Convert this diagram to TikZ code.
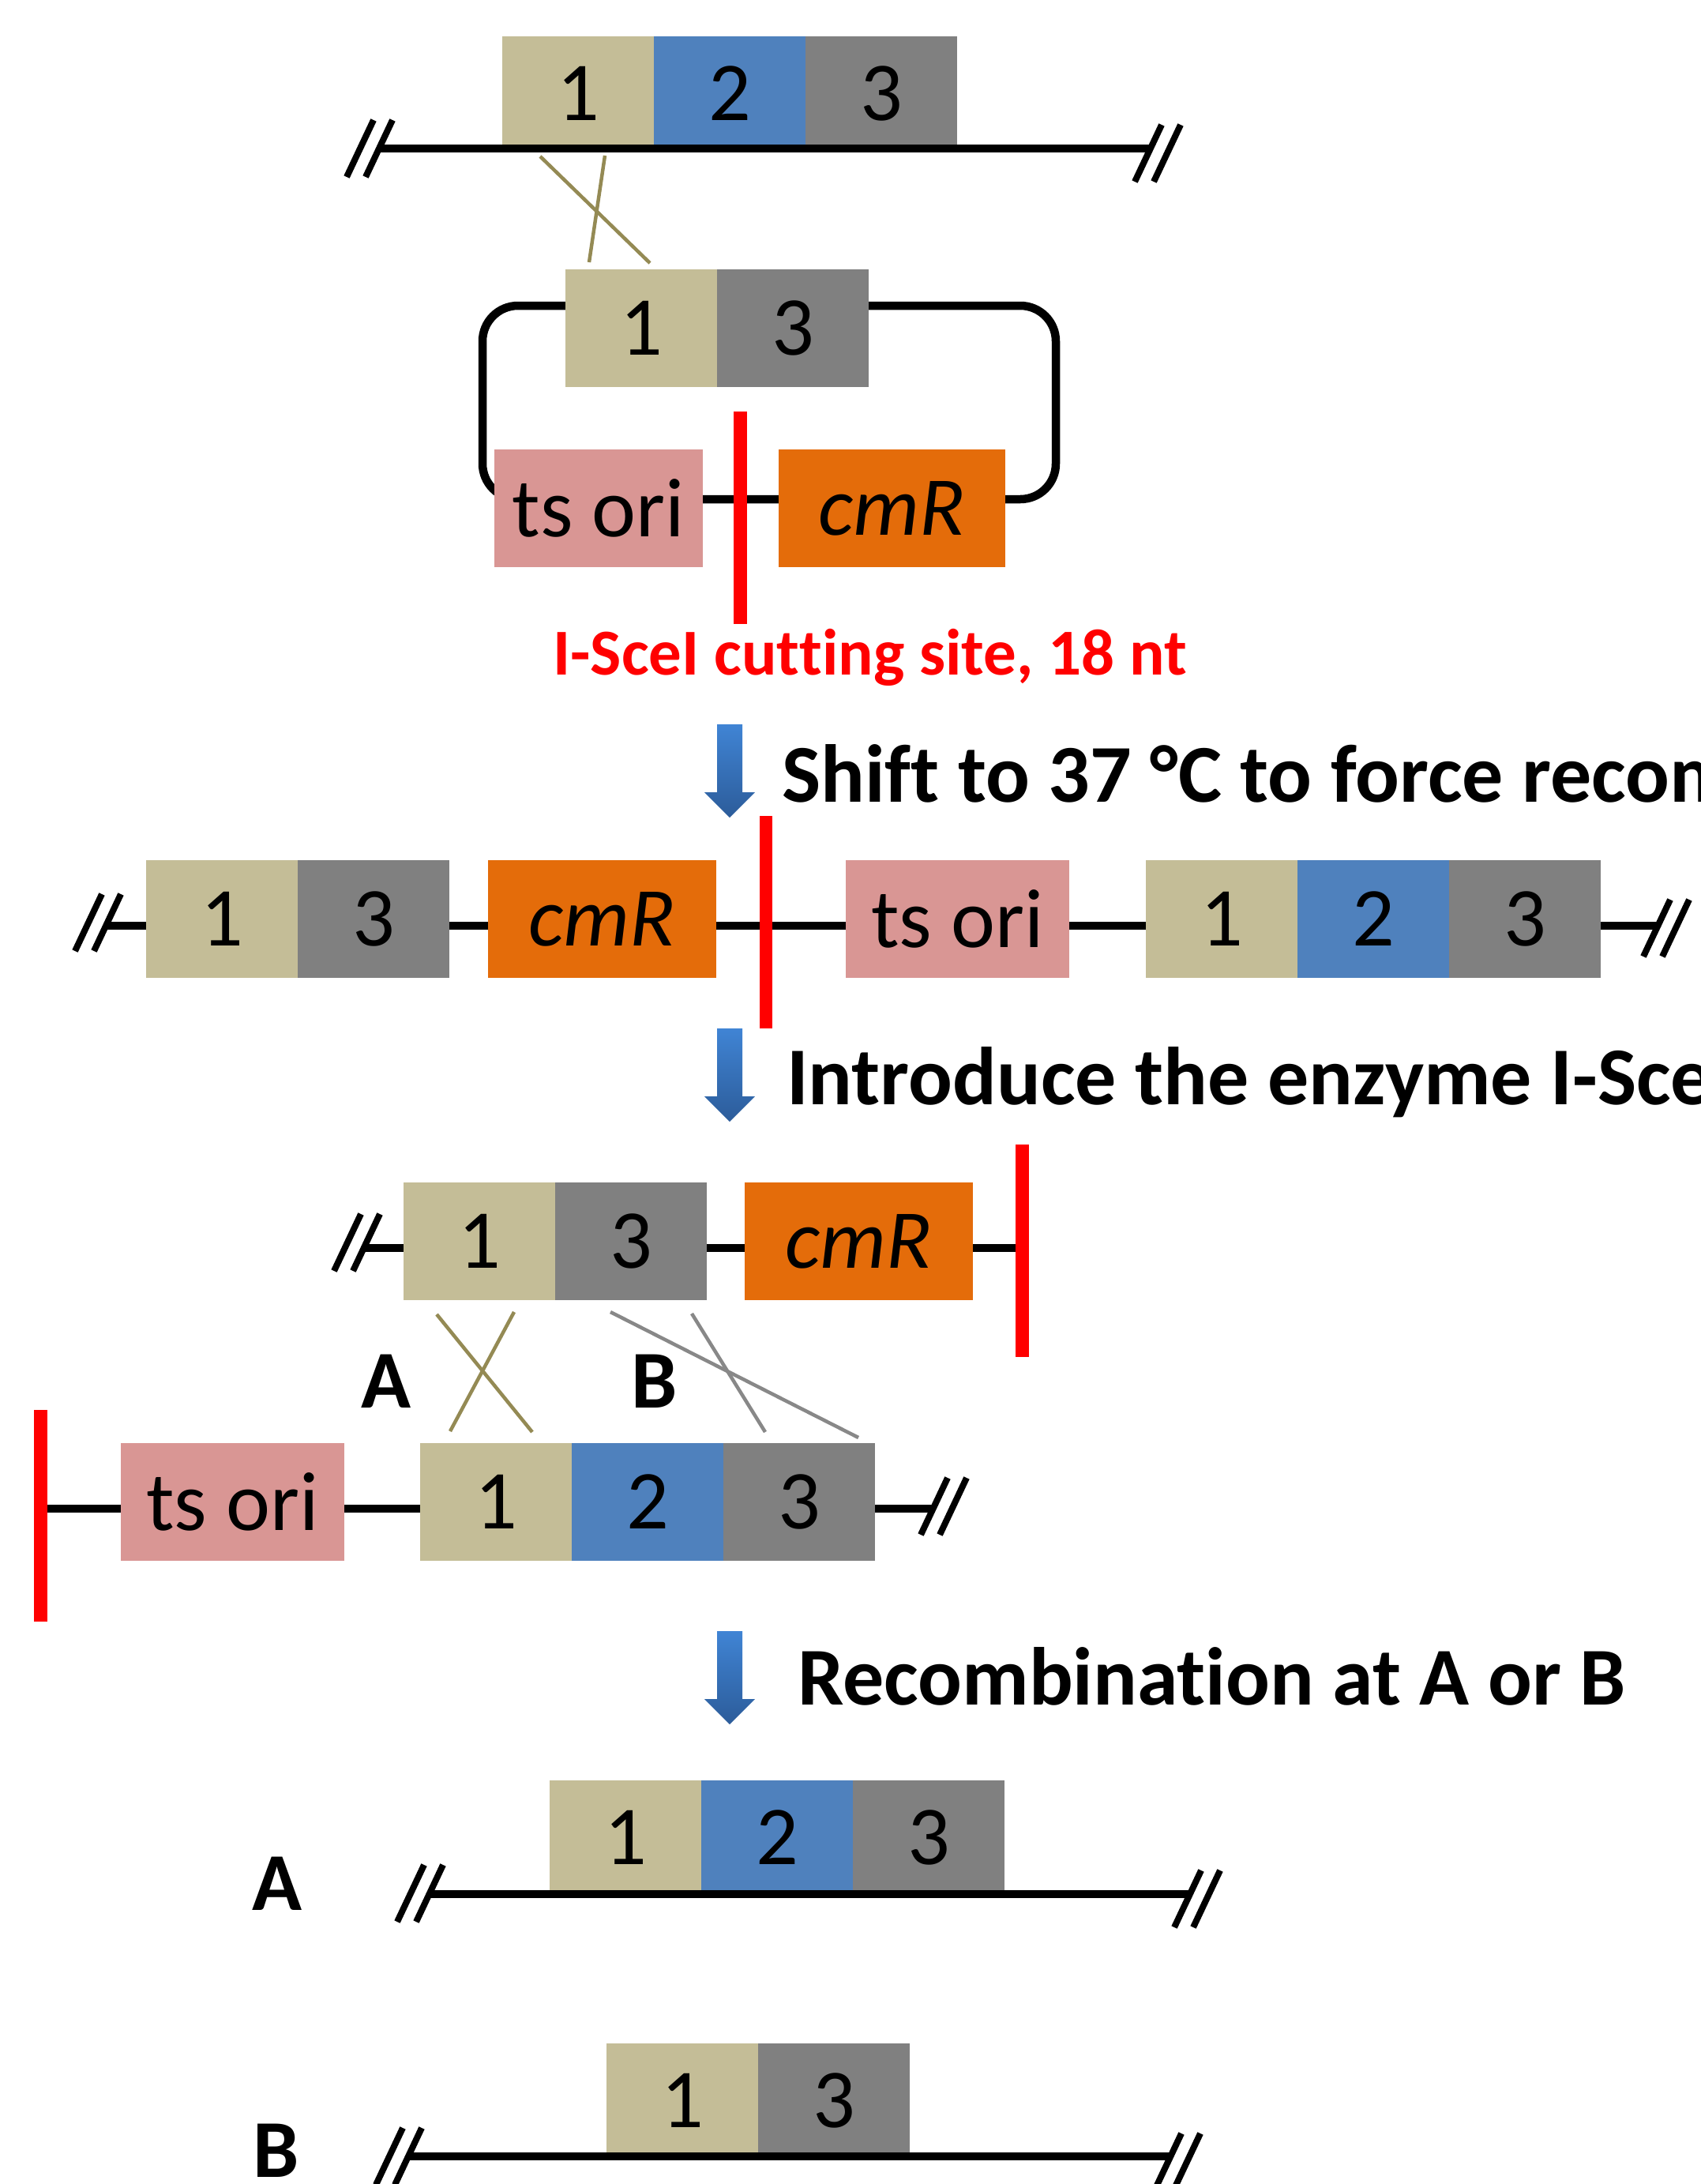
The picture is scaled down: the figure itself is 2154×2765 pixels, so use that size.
\documentclass[tikz,border=0pt]{standalone}
\usepackage{fontspec}
\setmainfont{Carlito}[Ligatures={NoCommon,NoRare,NoContextual}, RawFeature={-liga;-clig;-dlig}]
\definecolor{tanbox}{HTML}{C4BD97}
\definecolor{bluebox}{HTML}{4F81BD}
\definecolor{graybox}{HTML}{808080}
\definecolor{pinkbox}{HTML}{D99694}
\definecolor{orangebox}{HTML}{E46C0A}
\definecolor{olive}{HTML}{948A54}
\definecolor{grayline}{HTML}{888888}
\definecolor{cutred}{HTML}{FF0000}
\definecolor{arrTop}{RGB}{64,132,212}
\definecolor{arrBot}{RGB}{44,92,154}
\newcommand{\nl}{\kern0pt }
\begin{document}
\begin{tikzpicture}[x=1pt,y=-1pt,
  box/.style={inner sep=0pt, outer sep=0pt, anchor=north west, minimum width=192pt, minimum height=149pt, font=\fontsize{106}{110}\selectfont, text=black},
  lowbox/.style={box, minimum height=144pt},
  dna/.style={draw=black, line width=10.5pt},
  cut/.style={draw=cutred, line width=17pt},
  olivex/.style={draw=olive, line width=4.5pt},
  grayx/.style={draw=grayline, line width=4.5pt},
  head/.style={inner sep=0pt, anchor=base west, font=\bfseries\fontsize{104}{110}\selectfont},
  lab/.style={inner sep=0pt, anchor=base, font=\bfseries\fontsize{104}{110}\selectfont},
  redlab/.style={inner sep=0pt, anchor=base west, text=cutred, font=\bfseries\fontsize{83}{90}\selectfont},
  brk/.pic={
    \fill[white] (-29,36) -- (5,-36) -- (29,-36) -- (-5,36) -- cycle;
    \draw[line width=8pt] (-29,36) -- (5,-36) (-5,36) -- (29,-36);
  },
  downarr/.pic={
    \shade[top color=arrTop, bottom color=arrBot] (-16,0) -- (16,0) -- (16,86) -- (32,86) -- (0,118) -- (-32,86) -- (-16,86) -- cycle;
  }
]
\useasboundingbox (0,0) rectangle (2154,2765);
\clip (0,0) rectangle (2154,2765);

% ---------- Row 1: chromosome 1-2-3 ----------
\node[lowbox, fill=tanbox] (r1a) at (636,46) {1};
\node[lowbox, fill=bluebox] (r1b) at (828,46) {2};
\node[lowbox, fill=graybox] (r1c) at (1020,46) {3};
\coordinate (r1L) at (468,188);
\coordinate (r1R) at (1466,188);
\draw[dna] (r1L) -- (r1R);
\pic at (468,188) {brk};
\pic at (1466,194) {brk};

% crossing lines
\coordinate (x1a) at (684,198); \coordinate (x1b) at (823,333);
\coordinate (x1c) at (766,197); \coordinate (x1d) at (746,332);
\draw[olivex] (x1a) -- (x1b);
\draw[olivex] (x1c) -- (x1d);

% ---------- Row 2: plasmid ----------
\draw[dna, rounded corners=45pt] (611,387) rectangle (1337,632);
\node[box, fill=tanbox] (p1) at (716,341) {1};
\node[box, fill=graybox] (p3) at (908,341) {3};
\node[box, fill=pinkbox, minimum width=264pt] (pts) at (626,569) {ts ori};
\node[box, fill=orangebox, minimum width=287pt] (pcm) at (986,569) {\itshape cmR};
\coordinate (pcutT) at (937,521); \coordinate (pcutB) at (937,790);
\draw[cut] (pcutT) -- (pcutB);
\node[redlab] (cutlab) at (700,854) {I-SceI cut\nl t\nl ing site, 18 nt};

% ---------- Arrow 1 ----------
\pic at (924,917) {downarr};
\node[head] (t1) at (990,1015) {Shif\nl t to 37 °C to force recombination};

% ---------- Row 3 ----------
\coordinate (r3L) at (124,1172);
\coordinate (r3R) at (2110,1172);
\draw[dna] (r3L) -- (r3R);
\pic at (124,1168) {brk};
\pic at (2110,1175) {brk};
\node[box, fill=tanbox] (r3a) at (185,1089) {1};
\node[box, fill=graybox] (r3b) at (377,1089) {3};
\node[box, fill=orangebox, minimum width=289pt] (r3cm) at (618,1089) {\itshape cmR};
\node[box, fill=pinkbox, minimum width=283pt] (r3ts) at (1071,1089) {ts ori};
\node[box, fill=tanbox] (r3c) at (1451,1089) {1};
\node[box, fill=bluebox] (r3d) at (1643,1089) {2};
\node[box, fill=graybox] (r3e) at (1835,1089) {3};
\coordinate (r3cutT) at (970,1033); \coordinate (r3cutB) at (970,1302);
\draw[cut, line width=16pt] (r3cutT) -- (r3cutB);

% ---------- Arrow 2 ----------
\pic at (924,1302) {downarr};
\node[head] (t2) at (996,1398) {Introduce the enzyme I-SceI};

% ---------- Row 4 ----------
\coordinate (r4L) at (452,1580);
\coordinate (r4cutT) at (1294,1449); \coordinate (r4cutB) at (1294,1718);
\coordinate (r4R) at (1294,1580);
\draw[dna] (r4L) -- (r4R);
\pic at (452,1573) {brk};
\node[box, fill=tanbox] (r4a) at (511,1497) {1};
\node[box, fill=graybox] (r4b) at (703,1497) {3};
\node[box, fill=orangebox, minimum width=289pt] (r4cm) at (943,1497) {\itshape cmR};
\draw[cut] (r4cutT) -- (r4cutB);

% crossings A and B
\coordinate (xa1) at (553,1664); \coordinate (xa2) at (674,1813);
\coordinate (xa3) at (651,1661); \coordinate (xa4) at (570,1812);
\draw[olivex] (xa1) -- (xa2);
\draw[olivex] (xa3) -- (xa4);
\coordinate (xb1) at (773,1661); \coordinate (xb2) at (1087,1820);
\coordinate (xb3) at (876,1663); \coordinate (xb4) at (969,1813);
\draw[grayx] (xb1) -- (xb2);
\draw[grayx] (xb3) -- (xb4);
\node[lab] (labA1) at (489,1782) {A};
\node[lab] (labB1) at (829,1782) {B};

% ---------- Row 5 ----------
\coordinate (r5cutT) at (51,1785); \coordinate (r5cutB) at (51,2053);
\coordinate (r5L) at (51,1910);
\coordinate (r5R) at (1195,1910);
\draw[dna] (r5L) -- (r5R);
\pic at (1195,1907) {brk};
\node[box, fill=pinkbox, minimum width=283pt] (r5ts) at (153,1827) {ts ori};
\node[box, fill=tanbox] (r5a) at (532,1827) {1};
\node[box, fill=bluebox] (r5b) at (724,1827) {2};
\node[box, fill=graybox] (r5c) at (916,1827) {3};
\draw[cut] (r5cutT) -- (r5cutB);

% ---------- Arrow 3 ----------
\pic at (924,2065) {downarr};
\node[head] (t3) at (1010,2158) {Recombinat\nl ion at A or B};

% ---------- Result A ----------
\node[lowbox, fill=tanbox] (rAa) at (696,2254) {1};
\node[lowbox, fill=bluebox] (rAb) at (888,2254) {2};
\node[lowbox, fill=graybox] (rAc) at (1080,2254) {3};
\coordinate (rAL) at (532,2398);
\coordinate (rAR) at (1516,2398);
\draw[dna] (rAL) -- (rAR);
\pic at (532,2397) {brk};
\pic at (1516,2404) {brk};
\node[lab] (labA2) at (351,2418) {A};

% ---------- Result B ----------
\node[lowbox, fill=tanbox] (rBa) at (768,2587) {1};
\node[lowbox, fill=graybox] (rBb) at (960,2587) {3};
\coordinate (rBL) at (505,2730);
\coordinate (rBR) at (1491,2730);
\draw[dna] (rBL) -- (rBR);
\pic at (505,2730) {brk};
\pic at (1491,2737) {brk};
\node[lab] (labB2) at (350,2756) {B};
\end{tikzpicture}
\end{document}
